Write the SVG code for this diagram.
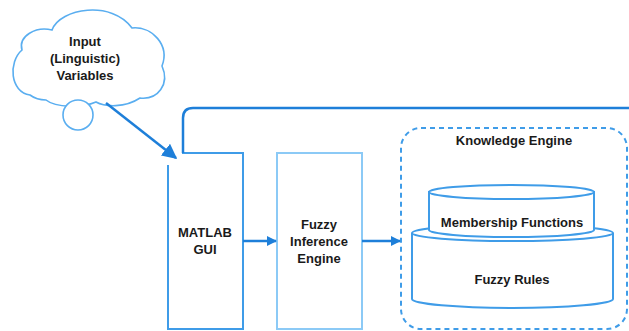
<svg xmlns="http://www.w3.org/2000/svg" width="629" height="331" viewBox="0 0 629 331">
<defs>
<style>
.t{font-family:"Liberation Sans",Arial,sans-serif;font-weight:bold;font-size:13px;fill:#1a1a1a;text-anchor:middle}
.n{fill:#fff;stroke:#3f9ce8;stroke-width:2}
.nl{fill:#fff;stroke:#8ccaf6;stroke-width:2}
.cl{fill:#fff;stroke:#5aaef0;stroke-width:1.6}
.c{fill:none;stroke:#1e7fd9;stroke-width:2.5}
</style>
<marker id="ah" viewBox="0 0 10 10" refX="9" refY="5" markerWidth="4" markerHeight="4" orient="auto" markerUnits="strokeWidth">
<path d="M0,0 L10,5 L0,10 Z" fill="#1e7fd9"/>
</marker>
<marker id="ah2" viewBox="0 0 10 10" refX="9" refY="5" markerWidth="6" markerHeight="6" orient="auto" markerUnits="strokeWidth">
<path d="M0,0 L10,5 L0,10 Z" fill="#1e7fd9"/>
</marker>
</defs>
<rect width="629" height="331" fill="#fff"/>

<g id="input-cloud">
<path class="cl" d="M30,95 C10,92 8,62 22,50 C18,36 36,26 52,30 C60,8 112,0 132,28 C152,26 170,45 162,66 C170,84 158,100 140,98 C125,108 105,107 96,102 C82,108 56,108 46,100 C40,100 34,98 30,95 Z"/>
<circle class="cl" cx="78" cy="115" r="15"/>
<text class="t" x="85" y="46">Input</text>
<text class="t" x="85" y="63">(Linguistic)</text>
<text class="t" x="85" y="80">Variables</text>
</g>

<g id="matlab-gui">
<path class="n" d="M168,165 L168,329 L243,329 L243,153 L182,153"/>
<text class="t" x="205" y="237">MATLAB</text>
<text class="t" x="205" y="254">GUI</text>
</g>

<g id="fuzzy-inference-engine">
<rect class="nl" x="277" y="153" width="85" height="176"/>
<text class="t" x="319" y="229">Fuzzy</text>
<text class="t" x="319" y="246">Inference</text>
<text class="t" x="319" y="263">Engine</text>
</g>

<g id="knowledge-engine">
<rect x="401" y="128" width="226" height="201" rx="20" fill="none" stroke="#3f9ce8" stroke-width="2" stroke-dasharray="5,4"/>
<text class="t" x="514" y="145">Knowledge Engine</text>
</g>

<g id="fuzzy-rules">
<path class="n" d="M412,233 L412,299 A100.5,9 0 0 0 613,299 L613,233"/>
<ellipse class="n" cx="512.5" cy="233" rx="100.5" ry="8"/>
<text class="t" x="512" y="284">Fuzzy Rules</text>
</g>

<g id="membership-functions">
<path class="n" d="M429,192 L429,230 A82.5,7 0 0 0 594,230 L594,192 Z"/>
<ellipse class="n" cx="511.5" cy="192" rx="82.5" ry="7"/>
<text class="t" x="512" y="227">Membership Functions</text>
</g>

<g id="connectors">
<line class="c" x1="106" y1="103" x2="176" y2="158" stroke-width="1.6" marker-end="url(#ah2)"/>
<path class="c" d="M183,153 L183,118 Q183,108 193,108 L629,108"/>
<line class="c" x1="243" y1="241" x2="276" y2="241" marker-end="url(#ah)"/>
<line class="c" x1="362" y1="241" x2="400" y2="241" marker-end="url(#ah)"/>
</g>
</svg>
